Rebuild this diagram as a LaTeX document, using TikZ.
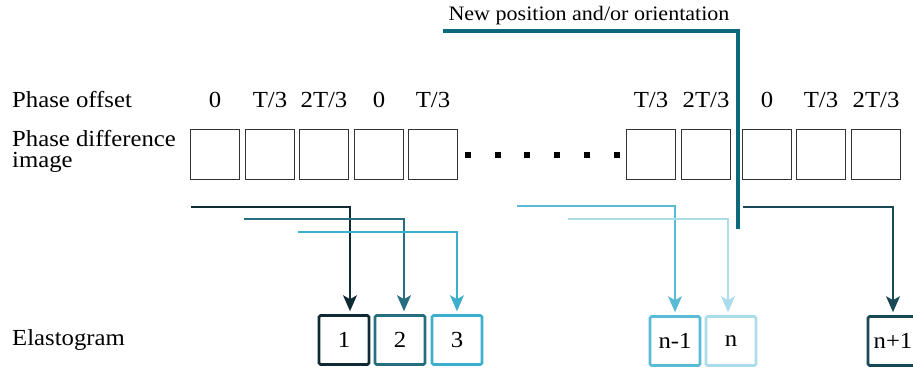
\documentclass[tikz,border=0pt]{standalone}
\usepackage{fontspec}
\setmainfont{Liberation Serif}[FakeStretch=1.075]
\usetikzlibrary{arrows.meta}
\definecolor{teal0}{RGB}{14,104,124}
\definecolor{cA}{RGB}{16,42,52}
\definecolor{cB}{RGB}{38,110,128}
\definecolor{cC}{RGB}{60,175,205}
\definecolor{cD}{RGB}{90,187,214}
\definecolor{cE}{RGB}{170,220,234}
\definecolor{cF}{RGB}{24,72,86}
\begin{document}
\begin{tikzpicture}[x=1pt,y=-1pt,
  every node/.style={font=\fontsize{23}{22}\selectfont},
  pbox/.style={draw=black!80,line width=0.9pt,minimum width=49pt,minimum height=50pt,inner sep=0pt},
  plabel/.style={inner sep=0pt,anchor=base},
  ebox/.style={draw=#1,line width=2.6pt,rounded corners=1.5pt,minimum width=50pt,minimum height=49pt,inner sep=0pt},
  conn/.style={draw=#1,line width=1.6pt,-{Stealth[length=16pt,width=14pt,inset=4pt]},shorten >=3pt},
  dotsq/.style={fill=black,minimum size=6pt,inner sep=0pt}]
\useasboundingbox (0,0) rectangle (913,372);
% left labels
\node[anchor=base west,inner sep=0pt] (lpo) at (12,107) {Phase offset};
\node[anchor=north west,inner sep=0pt,align=left,font=\fontsize{23}{21}\selectfont] (lpd) at (12,130) {Phase difference\\image};
\node[anchor=base west,inner sep=0pt] (lel) at (12,345) {Elastogram};
% phase difference boxes
\foreach \i/\x/\t in {1/215/0,2/270/T\slash 3,3/324/2T\slash 3,4/379/0,5/433/T\slash 3,6/651/T\slash 3,7/706/2T\slash 3,8/767/0,9/821/T\slash 3,10/876/2T\slash 3}{
  \node[pbox] (p\i) at (\x,154) {};
  \node[plabel] (o\i) at (\x,107) {\t};
}
% dots
\foreach \i/\x in {1/468,2/498,3/527,4/557,5/587,6/617}{
  \node[dotsq] (d\i) at (\x,155) {};
}
% new position line
\node[anchor=base,inner sep=0pt,font=\fontsize{20.5}{22}\selectfont] (np) at (589,20) {New position and/or orientation};
\coordinate (t0) at (443,31);
\coordinate (t1) at (738,229);
\draw[teal0,line width=4pt] (t0) -| (t1);
% elastogram boxes
\node[ebox=cA] (e1) at (344,340) {1};
\node[ebox=cB] (e2) at (400,340) {2};
\node[ebox=cC] (e3) at (457,340) {3};
\node[ebox=cD] (e4) at (675,341) {n-1};
\node[ebox=cE] (e5) at (731,341) {n};
\node[ebox=cF] (e6) at (893,341) {n+1};
% connectors
\coordinate (s1) at (191,207);
\coordinate (s2) at (244,219);
\coordinate (s3) at (298,232);
\coordinate (s4) at (517,206);
\coordinate (s5) at (568,219);
\coordinate (s6) at (743,207);
\draw[conn=cA] (s1) -| ([xshift=6pt]e1.north);
\draw[conn=cB] (s2) -| ([xshift=4pt]e2.north);
\draw[conn=cC] (s3) -| (e3.north);
\draw[conn=cD] (s4) -| (e4.north);
\draw[conn=cE] (s5) -| ([xshift=-3pt]e5.north);
\draw[conn=cF] (s6) -| (e6.north);
\end{tikzpicture}
\end{document}
